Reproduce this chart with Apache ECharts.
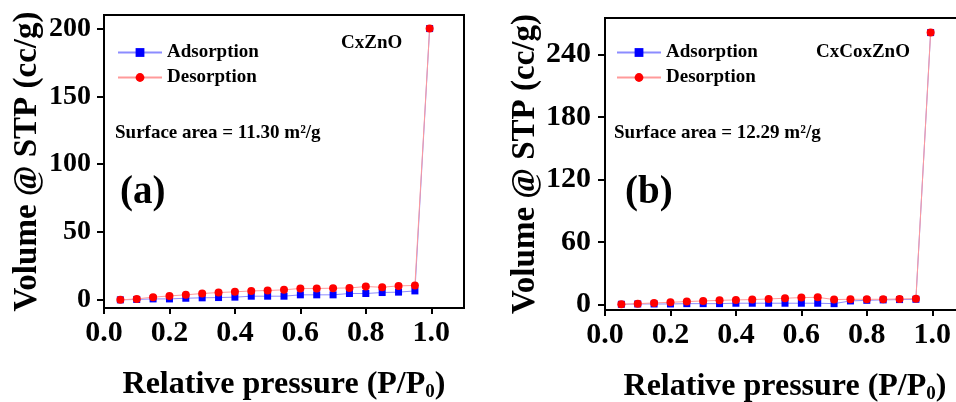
<!DOCTYPE html>
<html>
<head>
<meta charset="utf-8">
<script src="https://cdn.jsdelivr.net/npm/echarts@6/dist/echarts.min.js"></script>
<style>
html,body{margin:0;padding:0;background:#fff;}
#c{width:956px;height:402px;}
</style>
</head>
<body>
<div id="c"></div>
<script>
// ---- data ----
const pressure = [0.05,0.10,0.15,0.20,0.25,0.30,0.35,0.40,0.45,0.50,0.55,0.60,0.65,0.70,0.75,0.80,0.85,0.90,0.95,0.995];
const adsA = [0,0.3,0.7,0.7,1.2,1.5,1.7,2.0,2.7,2.7,2.7,3.7,3.7,3.7,4.7,4.7,5.4,5.7,6.6,200];
const desA = [0,0.7,2.0,2.9,3.7,4.7,5.4,5.9,6.6,6.9,7.4,8.4,8.4,8.6,8.8,9.8,9.3,10.3,10.6,200];
const adsB = [0,0.3,0.3,0.3,0.6,0.6,0.6,1.0,1.0,1.0,1.0,1.0,1.0,0.6,3.2,3.8,4.2,4.5,4.8,261];
const desB = [0,0.6,1.3,1.9,2.6,3.2,3.8,4.2,4.5,5.1,5.8,6.4,6.7,4.5,4.8,4.8,4.8,5.1,5.4,261];
const xTicks = [0,0.2,0.4,0.6,0.8,1.0];
const yTicksA = [0,50,100,150,200];
const yTicksB = [0,60,120,180,240];
const seriesNames = ['Adsorption','Desorption'];
const sampleA = 'CxZnO';
const sampleB = 'CxCoxZnO';
const areaA = 'Surface area = 11.30 m²/g';
const areaB = 'Surface area = 12.29 m²/g';
const panelA = '(a)';
const panelB = '(b)';
const xTitle = 'Relative pressure (P/P{sub|0})';
const yTitle = 'Volume @ STP (cc/g)';

const FF = '"Liberation Serif","Times New Roman",serif';
const pairs = (xs, ys) => xs.map((x, i) => [x, ys[i]]);

function xAxis(gi){
  return {
    type:'value', gridIndex:gi, min:0, max:1.1,
    axisLine:{show:true, onZero:false, lineStyle:{color:'#000', width:2}},
    axisTick:{show:true, inside:false, length:6, lineStyle:{width:2,color:'#000'}, customValues:xTicks},
    axisLabel:{show:true, customValues:xTicks, margin:10, color:'#000', fontFamily:FF, fontWeight:'bold', fontSize:30,
      formatter:v=>v.toFixed(1)},
    splitLine:{show:false},
    name:xTitle, nameLocation:'middle', nameGap:59,
    nameTextStyle:{color:'#000', fontFamily:FF, fontWeight:'bold', fontSize:32,
      rich:{sub:{fontFamily:FF, fontWeight:'bold', fontSize:19, color:'#000', padding:[16,0,0,0]}}}
  };
}
function yAxis(gi, min, max, ticks, fs, margin, gap){
  return {
    type:'value', gridIndex:gi, min:min, max:max,
    axisLine:{show:true, onZero:false, lineStyle:{color:'#000', width:2}},
    axisTick:{show:true, inside:false, length:7, lineStyle:{width:2,color:'#000'}, customValues:ticks},
    axisLabel:{show:true, customValues:ticks, margin:margin, color:'#000', fontFamily:FF, fontWeight:'bold', fontSize:fs},
    splitLine:{show:false},
    name:yTitle, nameLocation:'middle', nameGap:gap,
    nameTextStyle:{color:'#000', fontFamily:FF, fontWeight:'bold', fontSize:33}
  };
}
function ads(gi, ys){
  return {type:'line', name:seriesNames[0], xAxisIndex:gi, yAxisIndex:gi, data:pairs(pressure, ys),
    symbol:'rect', symbolSize:7, showAllSymbol:true, z:2,
    itemStyle:{color:'#0000ff'}, lineStyle:{color:'#8c8cff', width:1}, emphasis:{disabled:true}};
}
function des(gi, ys){
  return {type:'line', name:seriesNames[1], xAxisIndex:gi, yAxisIndex:gi, data:pairs(pressure, ys),
    symbol:'circle', symbolSize:8, showAllSymbol:true, z:3,
    itemStyle:{color:'#ff0000'}, lineStyle:{color:'#ff9a9a', width:1}, emphasis:{disabled:true}};
}
function legend(left){
  return {data:seriesNames, orient:'vertical', left:left, top:43, padding:0, itemWidth:44, itemHeight:11, itemGap:6,
    selectedMode:false, textStyle:{color:'#000', fontFamily:FF, fontWeight:'bold', fontSize:19}};
}
function txt(x, y, s, fs){
  return {type:'text', x:x, y:y, z:10, style:{text:s, fill:'#000', font:'bold '+fs+'px '+FF, textVerticalAlign:'middle'}};
}

const chart = echarts.init(document.getElementById('c'), null, {renderer:'canvas'});
chart.setOption({
  backgroundColor:'#fff',
  animation:false,
  grid:[
    {left:104, top:15, width:360, height:293, show:true, borderColor:'#000', borderWidth:2, backgroundColor:'transparent', outerBoundsMode:'none', containLabel:false},
    {left:605, top:18, width:360, height:292, show:true, borderColor:'#000', borderWidth:2, backgroundColor:'transparent', outerBoundsMode:'none', containLabel:false}
  ],
  xAxis:[xAxis(0), xAxis(1)],
  yAxis:[yAxis(0,-6,210,yTicksA,28,13,60), yAxis(1,-5.5,275,yTicksB,30,14,60)],
  legend:[legend(117), legend(616)],
  series:[ads(0,adsA), des(0,desA), ads(1,adsB), des(1,desB)],
  graphic:[
    txt(341,43,sampleA,19), txt(115,133,areaA,19), txt(120,193,panelA,39),
    txt(816,52,sampleB,19), txt(614,133,areaB,19), txt(625,193,panelB,39)
  ]
});
</script>
</body>
</html>
